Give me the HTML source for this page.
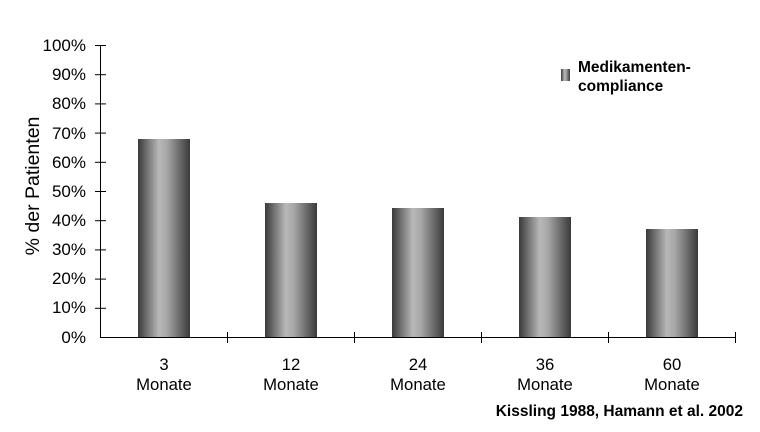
<!DOCTYPE html>
<html><head><style>body{margin:0;background:#fff}</style></head><body>
<svg width="760" height="427" viewBox="0 0 760 427" xmlns="http://www.w3.org/2000/svg" font-family="Liberation Sans, Arial, sans-serif">
<defs>
<linearGradient id="g" x1="0" x2="1" y1="0" y2="0">
<stop offset="0" stop-color="#3a3a3a"/><stop offset="0.4" stop-color="#b8b8b8"/><stop offset="0.55" stop-color="#a8a8a8"/><stop offset="1" stop-color="#3a3a3a"/>
</linearGradient>
</defs>
<g stroke="#000" stroke-width="1">
<line x1="100.5" y1="45" x2="100.5" y2="337"/>
<line x1="100" y1="337.5" x2="735" y2="337.5"/>
<g>
<line x1="95" x2="106" y1="45.5" y2="45.5"/><line x1="95" x2="106" y1="74.7" y2="74.7"/><line x1="95" x2="106" y1="103.9" y2="103.9"/><line x1="95" x2="106" y1="133.1" y2="133.1"/><line x1="95" x2="106" y1="162.3" y2="162.3"/><line x1="95" x2="106" y1="191.5" y2="191.5"/><line x1="95" x2="106" y1="220.7" y2="220.7"/><line x1="95" x2="106" y1="249.9" y2="249.9"/><line x1="95" x2="106" y1="279.1" y2="279.1"/><line x1="95" x2="106" y1="308.3" y2="308.3"/>
</g>
<line x1="227.5" x2="227.5" y1="332" y2="343"/><line x1="354.5" x2="354.5" y1="332" y2="343"/><line x1="481.5" x2="481.5" y1="332" y2="343"/><line x1="608.5" x2="608.5" y1="332" y2="343"/><line x1="735.5" x2="735.5" y1="332" y2="343"/>
</g>
<g fill="url(#g)">
<rect x="138" y="139" width="52" height="198"/>
<rect x="265" y="203" width="52" height="134"/>
<rect x="392" y="208" width="52" height="129"/>
<rect x="519" y="217" width="52" height="120"/>
<rect x="646" y="229" width="52" height="108"/>
</g>
<g font-size="17" text-anchor="end" fill="#000">
<text x="86" y="51">100%</text><text x="86" y="80">90%</text><text x="86" y="109">80%</text><text x="86" y="139">70%</text><text x="86" y="168">60%</text><text x="86" y="197">50%</text><text x="86" y="226">40%</text><text x="86" y="255">30%</text><text x="86" y="284">20%</text><text x="86" y="313">10%</text><text x="86" y="343">0%</text>
</g>
<text transform="translate(39,186) rotate(-90)" font-size="19.5" text-anchor="middle">% der Patienten</text>
<g font-size="16.7" text-anchor="middle">
<text x="164" y="370">3</text><text x="164" y="390">Monate</text>
<text x="291" y="370">12</text><text x="291" y="390">Monate</text>
<text x="418" y="370">24</text><text x="418" y="390">Monate</text>
<text x="545" y="370">36</text><text x="545" y="390">Monate</text>
<text x="672" y="370">60</text><text x="672" y="390">Monate</text>
</g>
<rect x="561" y="69" width="9" height="12" fill="url(#g)"/>
<text x="578" y="72" font-size="15.5" font-weight="bold">Medikamenten-</text>
<text x="578" y="91" font-size="15.5" font-weight="bold">compliance</text>
<text x="743" y="416" font-size="15.5" font-weight="bold" text-anchor="end">Kissling 1988, Hamann et al. 2002</text>
</svg>
</body></html>
